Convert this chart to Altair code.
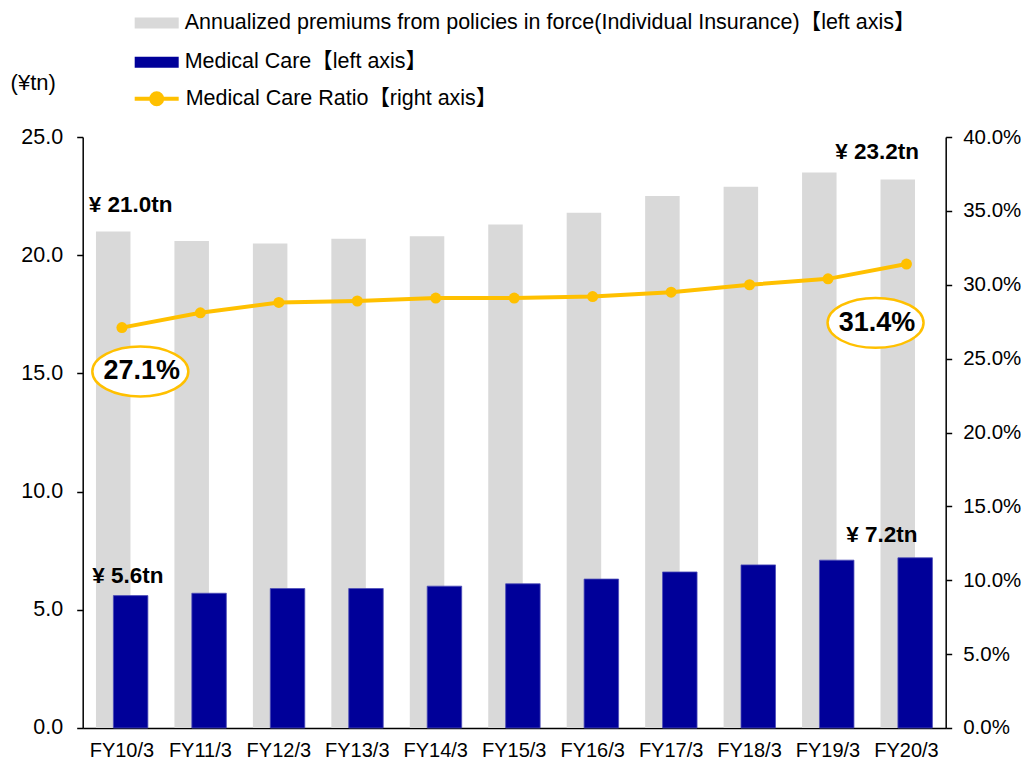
import altair as alt
import pandas as pd

cats = ["FY10/3", "FY11/3", "FY12/3", "FY13/3", "FY14/3", "FY15/3",
        "FY16/3", "FY17/3", "FY18/3", "FY19/3", "FY20/3"]
premiums = [21.0, 20.6, 20.5, 20.7, 20.8, 21.3, 21.8, 22.5, 22.9, 23.5, 23.2]
medical = [5.6, 5.7, 5.9, 5.9, 6.0, 6.1, 6.3, 6.6, 6.9, 7.1, 7.2]
ratio_pct = [27.1, 28.1, 28.8, 28.9, 29.1, 29.1, 29.2, 29.5, 30.0, 30.4, 31.4]

S1 = "Annualized premiums from policies in force(Individual  Insurance)【left axis】"
S2 = "Medical Care【left axis】"
S3 = "Medical Care Ratio【right axis】"

FONT = "Liberation Sans, Arial, Noto Sans CJK JP, sans-serif"
GRAY = "#d9d9d9"
BLUE = "#000099"
ORANGE = "#FFC000"

df_bars = pd.DataFrame({
    "cat": cats * 2,
    "series": [S1] * len(cats) + [S2] * len(cats),
    "value": premiums + medical,
})
df_ratio = pd.DataFrame({
    "cat": cats,
    "series": [S3] * len(cats),
    "ratio": [r / 100 for r in ratio_pct],
})

x_enc = alt.X(
    "cat:N", sort=cats,
    scale=alt.Scale(paddingInner=0, paddingOuter=0),
    axis=alt.Axis(title=None, labelAngle=0, ticks=False, domainColor="black",
                  domainWidth=1.5, labelFontSize=20, labelFont=FONT,
                  labelColor="black", labelPadding=13),
)

yL = alt.Y(
    "value:Q",
    scale=alt.Scale(domain=[0, 25], nice=False),
    axis=alt.Axis(values=[0, 5, 10, 15, 20, 25], format=".1f", grid=False,
                  title="(¥tn)", titleAngle=0, titleX=-50, titleY=-55,
                  titleAlign="center", titleBaseline="middle",
                  titleFontSize=22, titleFontWeight="normal", titleFont=FONT,
                  titleColor="black",
                  labelFontSize=21.5, labelFont=FONT, labelColor="black",
                  tickSize=6, tickColor="black", domainColor="black",
                  domainWidth=1.5, tickWidth=1.5, labelPadding=14),
)

yR = alt.Y(
    "ratio:Q",
    scale=alt.Scale(domain=[0, 0.4], nice=False),
    axis=alt.Axis(orient="right",
                  values=[0, 0.05, 0.1, 0.15, 0.2, 0.25, 0.3, 0.35, 0.4],
                  format=".1%", grid=False, title=None,
                  labelFontSize=20.5, labelFont=FONT, labelColor="black",
                  tickSize=6, tickColor="black", domainColor="black",
                  domainWidth=1.5, tickWidth=1.5, labelPadding=11),
)

fill_enc = alt.Fill(
    "series:N",
    scale=alt.Scale(domain=[S1, S2], range=[GRAY, BLUE]),
    legend=alt.Legend(title=None, orient="none", legendX=52, legendY=-136,
                      symbolType="M-1,-0.25H1V0.25H-1Z", symbolSize=1936,
                      symbolStrokeWidth=0, labelFontSize=21.5, labelFont=FONT,
                      labelColor="black", labelLimit=1000, rowPadding=6.3,
                      labelOffset=6),
)

gray_bars = alt.Chart(df_bars).transform_filter(
    alt.datum.series == S1
).mark_bar(width=34.5, xOffset=-8.7).encode(x=x_enc, y=yL, fill=fill_enc)

blue_bars = alt.Chart(df_bars).transform_filter(
    alt.datum.series == S2
).mark_bar(width=34.5, xOffset=8.7, stroke="#4d4db8", strokeWidth=0.8).encode(
    x=x_enc, y=yL, fill=fill_enc)


def bar_label(series, cat, dx, dy):
    return alt.Chart(df_bars).transform_filter(
        (alt.datum.series == series) & (alt.datum.cat == cat)
    ).transform_calculate(
        label="'¥ ' + format(datum.value, '.1f') + 'tn'"
    ).mark_text(font=FONT, fontSize=22.5, fontWeight="bold", color="black",
                dx=dx, dy=dy, baseline="middle", align="center").encode(
        x=x_enc, y=yL, text="label:N")


left = alt.layer(
    gray_bars, blue_bars,
    bar_label(S1, cats[0], 8.6, -26.6),
    bar_label(S1, cats[-1], -29.4, -27.3),
    bar_label(S2, cats[0], 5.9, -20),
    bar_label(S2, cats[-1], -24.7, -23),
)

line = alt.Chart(df_ratio).mark_line(strokeWidth=4).encode(
    x=x_enc, y=yR,
    stroke=alt.Stroke(
        "series:N",
        scale=alt.Scale(domain=[S3], range=[ORANGE]),
        legend=alt.Legend(title=None, orient="none", legendX=50, legendY=-62.3,
                          symbolType="M-1,0H1M0.25,0A0.25,0.25 0 1,1 -0.25,0A0.25,0.25 0 1,1 0.25,0Z",
                          symbolSize=1936, symbolStrokeWidth=4,
                          symbolFillColor=ORANGE, labelFontSize=21.5,
                          labelFont=FONT, labelColor="black", labelLimit=1000,
                          labelOffset=5),
    ),
)
dots = alt.Chart(df_ratio).mark_circle(size=121, color=ORANGE, opacity=1).encode(
    x=x_enc, y=yR)

ELLIPSE = "M-1,0A1,0.52 0 1,1 1,0A1,0.52 0 1,1 -1,0Z"


def ratio_callout(cat, dx, dy):
    base = alt.Chart(df_ratio).transform_filter(alt.datum.cat == cat)
    ell = base.mark_point(shape=ELLIPSE, size=9216, filled=True, fill="white",
                          stroke=ORANGE, strokeWidth=2.5, opacity=1,
                          xOffset=dx, yOffset=dy).encode(x=x_enc, y=yR)
    txt = base.transform_calculate(
        label="format(datum.ratio, '.1%')"
    ).mark_text(font=FONT, fontSize=27, fontWeight="bold", color="black",
                dx=dx + 1.5, dy=dy, baseline="middle", align="center").encode(
        x=x_enc, y=yR, text="label:N")
    return [ell, txt]


right = alt.layer(line, dots, *ratio_callout(cats[0], 18.4, 43.9),
                  *ratio_callout(cats[-1], -30.9, 58.8))

chart = alt.layer(left, right).resolve_scale(
    y="independent", fill="independent", stroke="independent"
).properties(
    width=863, height=591,
    autosize=alt.AutoSizeParams(type="none"),
    padding={"left": 74.7, "top": 129, "right": 75, "bottom": 37},
    background="white",
).configure_view(stroke=None)

chart.save("out.html", embed_options={"renderer": "svg", "actions": False})
